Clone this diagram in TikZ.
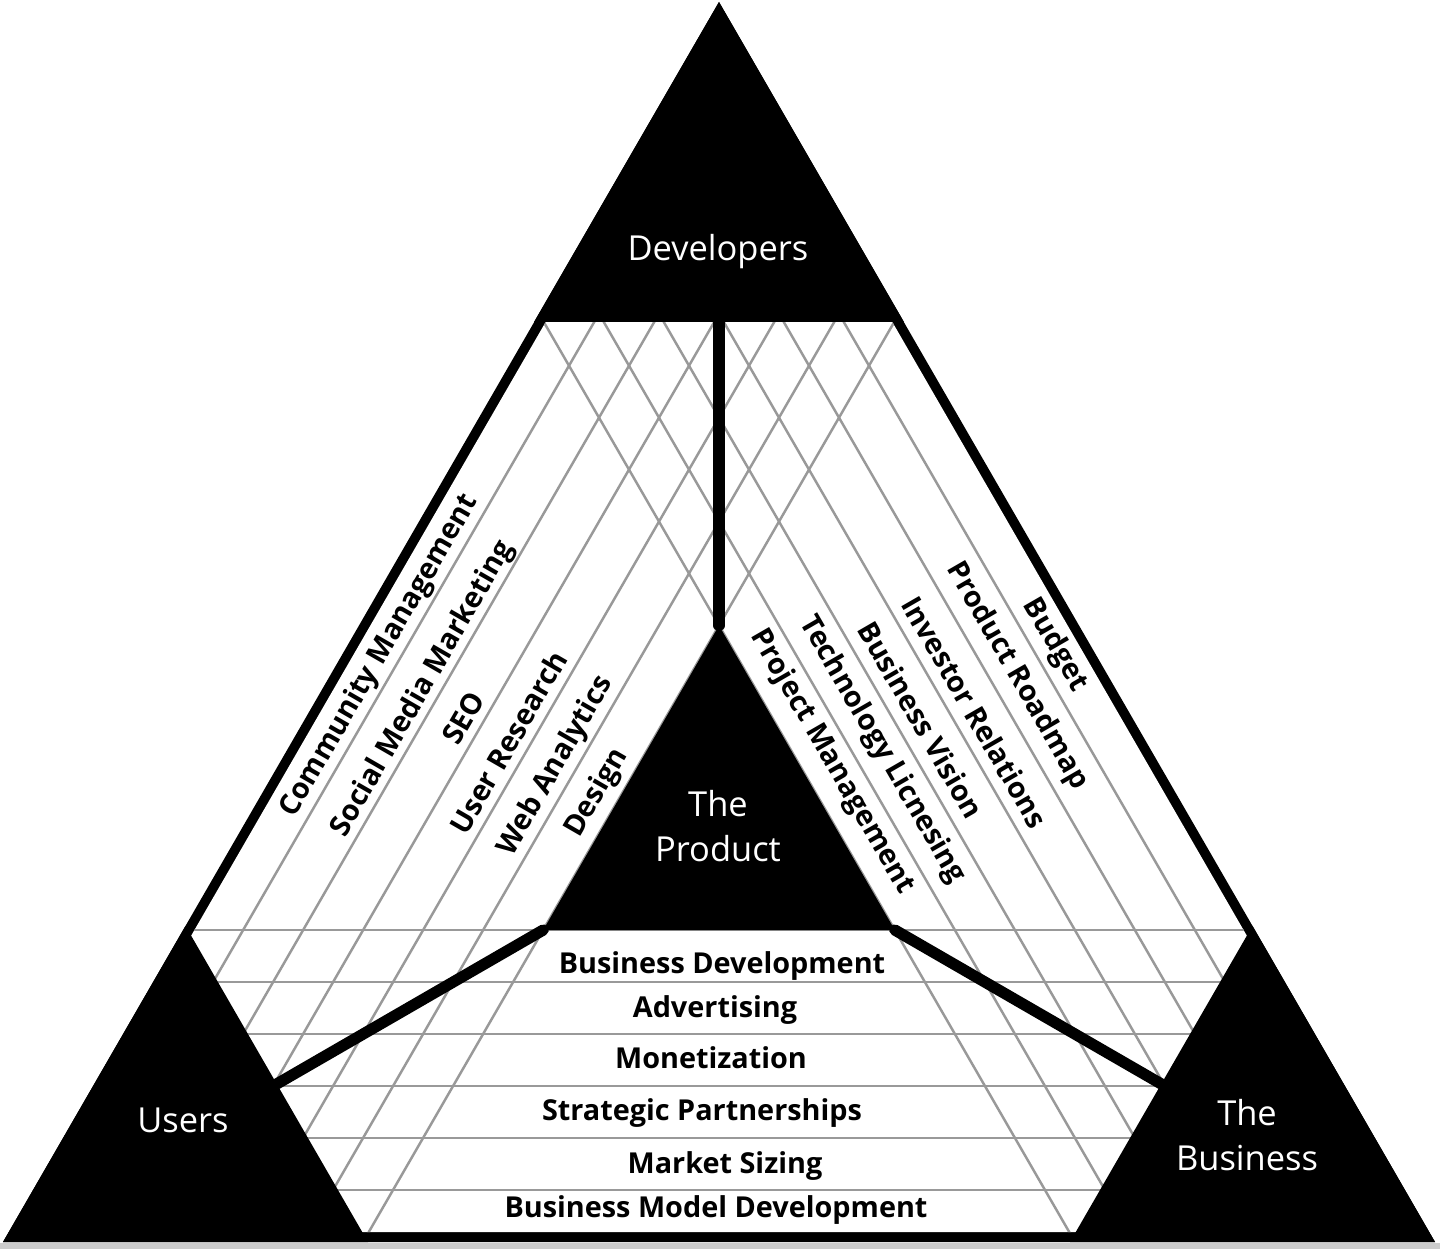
\documentclass[tikz,border=0pt]{standalone}
\usepackage{fontspec}
\setmainfont{Open Sans}

\begin{document}
\begin{tikzpicture}[
    hatch/.style={draw=black!40, line width=0.7pt},
    link/.style={line width=3.2pt, line cap=round},
    band/.style={font=\bfseries\fontsize{8.2}{9}\selectfont, inner sep=0pt},
    corner/.style={text=white, align=center, font=\fontsize{9.8}{12.8}\selectfont}
]
    \useasboundingbox (0,0) rectangle (14.4,12.49);
    \fill[black!20] (0,0) rectangle (14.4,0.06);

    % Outer triangle and white inside
    \coordinate (top) at (7.19,12.47);
    \coordinate (bl) at (0.03,0.07);
    \coordinate (br) at (14.35,0.07);
    \coordinate (itop) at (7.19,12.27);
    \coordinate (ibl) at (0.20,0.17);
    \coordinate (ibr) at (14.18,0.17);
    \fill (top) -- (bl) -- (br) -- cycle;
    \fill[white] (itop) -- (ibl) -- (ibr) -- cycle;

    % Band lines
    \begin{scope}
        \clip (itop) -- (ibl) -- (ibr) -- cycle;
        \foreach \k in {1,...,6} {
            \draw[hatch] (0.03+0.6*\k,0.07) -- (7.19+0.6*\k,12.47);
            \draw[hatch] (14.35-0.6*\k,0.07) -- (7.19-0.6*\k,12.47);
            \draw[hatch] (0,0.07+0.52*\k) -- (14.4,0.07+0.52*\k);
        }
    \end{scope}

    % Corner triangles
    \coordinate (devL) at (5.34,9.27);
    \coordinate (devR) at (9.04,9.27);
    \coordinate (devM) at (7.19,9.27);
    \coordinate (usrR) at (3.68,0.07);
    \coordinate (usrT) at (1.855,3.231);
    \coordinate (usrM) at (2.7675,1.6505);
    \coordinate (bizL) at (10.70,0.07);
    \coordinate (bizT) at (12.525,3.231);
    \coordinate (bizM) at (11.6125,1.6505);
    \fill (top) -- (devL) -- (devR) -- cycle;
    \fill (bl) -- (usrR) -- (usrT) -- cycle;
    \fill (br) -- (bizL) -- (bizT) -- cycle;

    % The Product
    \coordinate (prodT) at (7.19,6.235);
    \coordinate (prodL) at (5.432,3.19);
    \coordinate (prodR) at (8.948,3.19);
    \fill (prodT) -- (prodL) -- (prodR) -- cycle;

    % Links between the corners and the product
    \draw[link] (devM) -- (prodT);
    \draw[link] (prodL) -- (usrM);
    \draw[link] (prodR) -- (bizM);

    \node[corner] (dev) at (7.18,9.97) {Developers};
    \node[corner] (users) at (1.83,1.29) {Users};
    \node[corner] (biz) at (12.47,1.14) {The\\Business};
    \node[corner] (prod) at (7.18,4.23) {The\\Product};

    % Users / Developers bands
    \foreach \t/\x/\y [count=\i] in {Community Management/3.80/5.93,
        Social Media Marketing/4.23/5.60, SEO/4.63/5.31,
        User Research/5.08/5.07, Web Analytics/5.56/4.83, Design/5.97/4.56}
        \node[band, rotate=60] (ud\i) at (\x,\y) {\t};

    % Developers / Business bands
    \foreach \t/\x/\y [count=\i] in {Budget/10.55/6.04,
        Product Roadmap/10.17/5.73, Investor Relations/9.75/5.37,
        Business Vision/9.21/5.29, Technology Licnesing/8.82/4.99,
        Project Management/8.32/4.87}
        \node[band, rotate=-60] (db\i) at (\x,\y) {\t};

    % Users / Business bands
    \foreach \t/\x/\y [count=\i] in {Business Development/7.22/2.757,
        Advertising/7.15/2.32, Monetization/7.11/1.81,
        Strategic Partnerships/7.02/1.29, Market Sizing/7.25/0.76,
        Business Model Development/7.16/0.32}
        \node[band, anchor=base] (ub\i) at (\x,\y) {\t};
\end{tikzpicture}
\end{document}
